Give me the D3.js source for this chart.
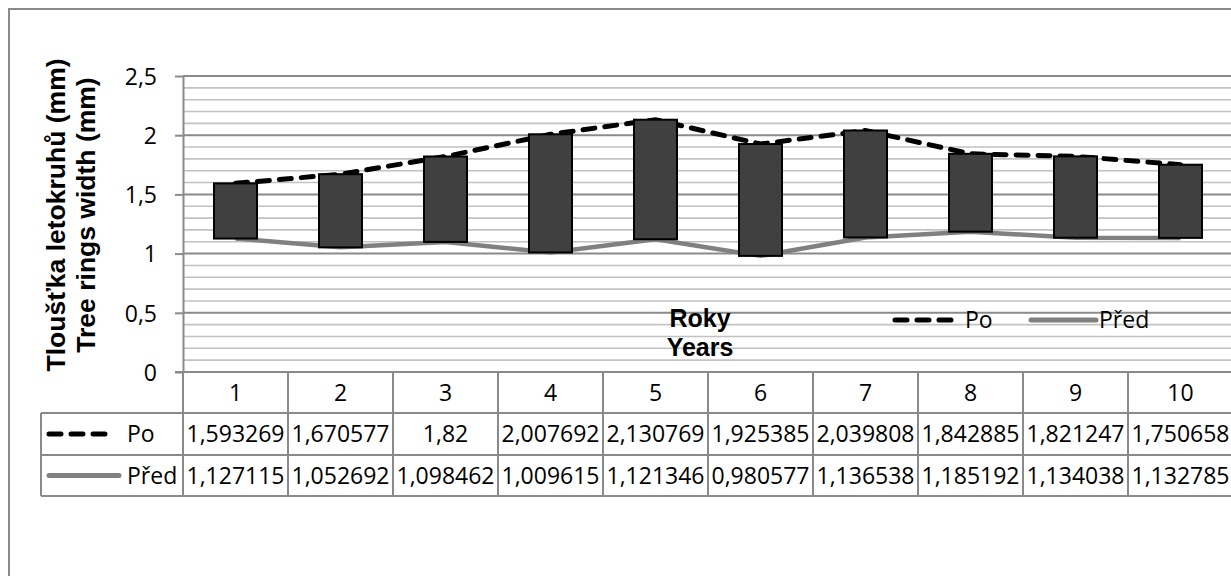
<!DOCTYPE html>
<html>
<head>
<meta charset="utf-8">
<script src="https://cdn.jsdelivr.net/npm/d3@7"></script>
<style>
  html, body { margin: 0; padding: 0; background: #fff; }
  svg { display: block; }
</style>
</head>
<body>
<svg id="chart" width="1231" height="576"></svg>
<script>
// Tree ring widths per year, after (Po) and before (Před)
const categories = ['1', '2', '3', '4', '5', '6', '7', '8', '9', '10'];
const poValues = [1.593269, 1.670577, 1.82, 2.007692, 2.130769, 1.925385, 2.039808, 1.842885, 1.821247, 1.750658];
const predValues = [1.127115, 1.052692, 1.098462, 1.009615, 1.121346, 0.980577, 1.136538, 1.185192, 1.134038, 1.132785];
const seriesNames = ['Po', 'Před'];
const yTicks = [0, 0.5, 1, 1.5, 2, 2.5];
const yTitleLines = ['Tloušťka letokruhů (mm)', 'Tree rings width (mm)'];
const xTitleLines = ['Roky', 'Years'];

const W = 1231, H = 576;
const plot = { left: 183, right: 1233, top: 76, bottom: 372 };
const rowH = [41, 42, 41];
const tableLeft = 41;

const majorColor = '#8a8a8a';
const minorColor = '#c2c2c2';
const numFont = "'Open Sans', 'Noto Sans', sans-serif";
const boldFont = "'Liberation Sans', Arial, sans-serif";

const fmt = v => String(v).replace('.', ',');

const svg = d3.select('#chart');
svg.append('rect').attr('width', W).attr('height', H).attr('fill', '#fff');

// chart frame
svg.append('rect')
  .attr('x', 9).attr('y', 9)
  .attr('width', W + 20).attr('height', H + 20)
  .attr('fill', '#fff')
  .attr('stroke', majorColor).attr('stroke-width', 2);

const x = d3.scaleBand().domain(categories).range([plot.left, plot.right]).padding(0);
const y = d3.scaleLinear().domain([0, 2.5]).range([plot.bottom, plot.top]);
const cx = c => x(c) + x.bandwidth() / 2;

// minor gridlines every 0.1
const minor = d3.range(1, 25).filter(i => i % 5 !== 0).map(i => i / 10);
svg.append('g').selectAll('line').data(minor).join('line')
  .attr('x1', plot.left).attr('x2', plot.right + 10)
  .attr('y1', d => y(d)).attr('y2', d => y(d))
  .attr('stroke', minorColor).attr('stroke-width', 1.6);

// major gridlines
svg.append('g').selectAll('line').data(yTicks).join('line')
  .attr('x1', plot.left).attr('x2', plot.right + 10)
  .attr('y1', d => y(d)).attr('y2', d => y(d))
  .attr('stroke', majorColor).attr('stroke-width', 2);

// y axis
const yAxis = svg.append('g')
  .attr('transform', `translate(${plot.left},0)`)
  .call(d3.axisLeft(y).tickValues(yTicks).tickSize(8).tickSizeOuter(0).tickPadding(18).tickFormat(fmt));
yAxis.select('.domain').attr('stroke', majorColor).attr('stroke-width', 2);
yAxis.selectAll('.tick line').attr('stroke', majorColor).attr('stroke-width', 2);
yAxis.selectAll('.tick text')
  .attr('font-family', numFont).attr('font-size', 23).attr('fill', '#000')
  .attr('dy', '0.36em');

// y axis title (two lines, rotated)
const yTitle = svg.append('g');
yTitleLines.forEach((t, i) => {
  yTitle.append('text')
    .attr('transform', `translate(${65 + i * 30},215) rotate(-90)`)
    .attr('text-anchor', 'middle')
    .attr('font-family', boldFont).attr('font-weight', 'bold').attr('font-size', 26.5)
    .attr('fill', '#000')
    .text(t);
});

// lines
const line = d3.line().x((d, i) => cx(categories[i])).y(d => y(d));
svg.append('path').datum(predValues)
  .attr('d', line).attr('fill', 'none')
  .attr('stroke', '#808080').attr('stroke-width', 4.5).attr('stroke-linejoin', 'round');
svg.append('path').datum(poValues)
  .attr('d', line).attr('fill', 'none')
  .attr('stroke', '#000').attr('stroke-width', 5)
  .attr('stroke-dasharray', '12,10').attr('stroke-linecap', 'round');

// up-down bars between the two series
const barW = 43;
svg.append('g').selectAll('rect').data(categories).join('rect')
  .attr('x', c => cx(c) - barW / 2)
  .attr('width', barW)
  .attr('y', (c, i) => y(Math.max(poValues[i], predValues[i])))
  .attr('height', (c, i) => Math.abs(y(predValues[i]) - y(poValues[i])))
  .attr('fill', '#404040').attr('stroke', '#000').attr('stroke-width', 2);

// x axis title inside the plot
xTitleLines.forEach((t, i) => {
  svg.append('text')
    .attr('x', 700).attr('y', 327 + i * 29)
    .attr('text-anchor', 'middle')
    .attr('font-family', boldFont).attr('font-weight', 'bold').attr('font-size', 25)
    .attr('fill', '#000')
    .text(t);
});

// legend keys
function drawKey(g, x0, x1, yy, i) {
  const k = g.append('line')
    .attr('x1', x0).attr('x2', x1).attr('y1', yy).attr('y2', yy)
    .attr('stroke-width', 5).attr('stroke-linecap', 'round');
  if (i === 0) k.attr('stroke', '#000').attr('stroke-dasharray', '12,10');
  else k.attr('stroke', '#808080');
}

// legend inside plot
const legend = svg.append('g');
const legItems = [{ x0: 895, x1: 954, tx: 965 }, { x0: 1031, x1: 1096, tx: 1099 }];
seriesNames.forEach((s, i) => {
  drawKey(legend, legItems[i].x0, legItems[i].x1, 320, i);
  legend.append('text')
    .attr('x', legItems[i].tx).attr('y', 328)
    .attr('font-family', numFont).attr('font-size', 23).attr('fill', '#000')
    .text(s);
});

// data table
const table = svg.append('g');
const rowY = [plot.bottom, plot.bottom + rowH[0], plot.bottom + rowH[0] + rowH[1], plot.bottom + rowH[0] + rowH[1] + rowH[2]];
// horizontal rules
[rowY[1], rowY[2], rowY[3]].forEach(yy => {
  table.append('line')
    .attr('x1', tableLeft).attr('x2', plot.right + 10)
    .attr('y1', yy).attr('y2', yy)
    .attr('stroke', majorColor).attr('stroke-width', 2);
});
// vertical rules at category boundaries
const bounds = categories.map(c => x(c)).concat([plot.right]);
table.selectAll('line.v').data(bounds).join('line')
  .attr('class', 'v')
  .attr('x1', d => d).attr('x2', d => d)
  .attr('y1', rowY[0]).attr('y2', rowY[3])
  .attr('stroke', majorColor).attr('stroke-width', 2);
table.append('line')
  .attr('x1', tableLeft).attr('x2', tableLeft)
  .attr('y1', rowY[1]).attr('y2', rowY[3])
  .attr('stroke', majorColor).attr('stroke-width', 2);
// x axis line and tick at the zero
table.append('line')
  .attr('x1', plot.left - 8).attr('x2', plot.right + 10)
  .attr('y1', plot.bottom).attr('y2', plot.bottom)
  .attr('stroke', majorColor).attr('stroke-width', 2);

// header row: category labels
table.selectAll('text.cat').data(categories).join('text')
  .attr('class', 'cat')
  .attr('x', c => cx(c)).attr('y', (rowY[0] + rowY[1]) / 2)
  .attr('dy', '0.36em').attr('text-anchor', 'middle')
  .attr('font-family', numFont).attr('font-size', 23).attr('fill', '#000')
  .text(c => c);

// value rows
[poValues, predValues].forEach((vals, r) => {
  const mid = (rowY[r + 1] + rowY[r + 2]) / 2;
  table.selectAll(`text.r${r}`).data(vals).join('text')
    .attr('class', `r${r}`)
    .attr('x', (v, i) => cx(categories[i])).attr('y', mid)
    .attr('dy', '0.36em').attr('text-anchor', 'middle')
    .attr('font-family', numFont).attr('font-size', 23).attr('fill', '#000')
    .text(fmt);
  drawKey(table, 49, r === 0 ? 114 : 119, mid, r);
  table.append('text')
    .attr('x', 127).attr('y', mid).attr('dy', '0.36em')
    .attr('font-family', numFont).attr('font-size', 23).attr('fill', '#000')
    .text(seriesNames[r]);
});
</script>
</body>
</html>
